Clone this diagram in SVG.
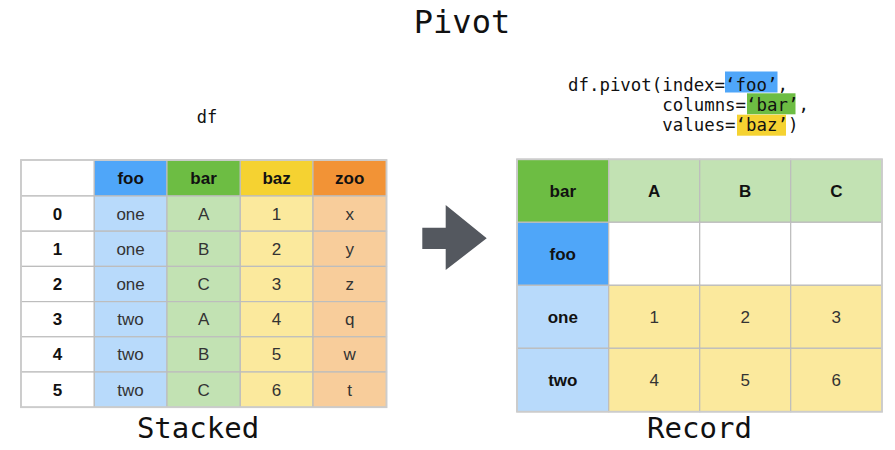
<svg xmlns="http://www.w3.org/2000/svg" width="895" height="450" viewBox="0 0 895 450">
<style>
.mono{font-family:"DejaVu Sans Mono","Liberation Mono",monospace;fill:#111}
.cell{stroke:#bdbdbd;stroke-width:1.2}
.h{font-family:"Liberation Sans",Arial,sans-serif;font-weight:bold;font-size:17px;fill:#111;text-anchor:middle}
.d{font-family:"Liberation Sans",Arial,sans-serif;font-size:17px;fill:#333;text-anchor:middle}
.w{fill:#ffffff}
.fooH{fill:#4fa6f9}.fooL{fill:#b8dafb}
.barH{fill:#6dbd43}.barL{fill:#c2e2b3}
.bazH{fill:#f5d231}.bazL{fill:#fbe99d}
.zooH{fill:#f29336}.zooL{fill:#f8cd9b}
</style>
<rect width="895" height="450" fill="#ffffff"/>
<g id="title"><text class="mono" x="462" y="33" font-size="32" text-anchor="middle">Pivot</text></g>
<g id="df-label"><text class="mono" x="207" y="123" font-size="17" text-anchor="middle">df</text></g>
<g id="code">
<rect x="725" y="71.5" width="52.5" height="21" fill="#4fa6f9"/>
<rect x="747" y="93.3" width="48.5" height="21" fill="#6dbd43"/>
<rect x="737" y="114.7" width="49" height="21" fill="#f5d231"/>
<text class="mono" font-size="17.4" x="568" y="90.5">df.pivot(index=‘foo’,</text>
<text class="mono" font-size="17.4" x="662.3" y="110.7">columns=‘bar’,</text>
<text class="mono" font-size="17.4" x="662.3" y="131">values=‘baz’)</text>
</g>
<g id="stacked-table">
<rect class="cell w" x="21" y="160" width="73.3" height="36"/>
<rect class="cell fooH" x="94.3" y="160" width="72.7" height="36"/>
<rect class="cell barH" x="167" y="160" width="73.3" height="36"/>
<rect class="cell bazH" x="240.3" y="160" width="72.7" height="36"/>
<rect class="cell zooH" x="313" y="160" width="73.5" height="36"/>
<text class="h" x="130.6" y="184">foo</text>
<text class="h" x="203.6" y="184">bar</text>
<text class="h" x="276.6" y="184">baz</text>
<text class="h" x="349.7" y="184">zoo</text>
<g id="rows">
<rect class="cell w" x="21" y="196" width="73.3" height="35.2"/><rect class="cell fooL" x="94.3" y="196" width="72.7" height="35.2"/><rect class="cell barL" x="167" y="196" width="73.3" height="35.2"/><rect class="cell bazL" x="240.3" y="196" width="72.7" height="35.2"/><rect class="cell zooL" x="313" y="196" width="73.5" height="35.2"/>
<rect class="cell w" x="21" y="231.2" width="73.3" height="35.2"/><rect class="cell fooL" x="94.3" y="231.2" width="72.7" height="35.2"/><rect class="cell barL" x="167" y="231.2" width="73.3" height="35.2"/><rect class="cell bazL" x="240.3" y="231.2" width="72.7" height="35.2"/><rect class="cell zooL" x="313" y="231.2" width="73.5" height="35.2"/>
<rect class="cell w" x="21" y="266.4" width="73.3" height="35.2"/><rect class="cell fooL" x="94.3" y="266.4" width="72.7" height="35.2"/><rect class="cell barL" x="167" y="266.4" width="73.3" height="35.2"/><rect class="cell bazL" x="240.3" y="266.4" width="72.7" height="35.2"/><rect class="cell zooL" x="313" y="266.4" width="73.5" height="35.2"/>
<rect class="cell w" x="21" y="301.6" width="73.3" height="35.2"/><rect class="cell fooL" x="94.3" y="301.6" width="72.7" height="35.2"/><rect class="cell barL" x="167" y="301.6" width="73.3" height="35.2"/><rect class="cell bazL" x="240.3" y="301.6" width="72.7" height="35.2"/><rect class="cell zooL" x="313" y="301.6" width="73.5" height="35.2"/>
<rect class="cell w" x="21" y="336.8" width="73.3" height="35.2"/><rect class="cell fooL" x="94.3" y="336.8" width="72.7" height="35.2"/><rect class="cell barL" x="167" y="336.8" width="73.3" height="35.2"/><rect class="cell bazL" x="240.3" y="336.8" width="72.7" height="35.2"/><rect class="cell zooL" x="313" y="336.8" width="73.5" height="35.2"/>
<rect class="cell w" x="21" y="372" width="73.3" height="35.2"/><rect class="cell fooL" x="94.3" y="372" width="72.7" height="35.2"/><rect class="cell barL" x="167" y="372" width="73.3" height="35.2"/><rect class="cell bazL" x="240.3" y="372" width="72.7" height="35.2"/><rect class="cell zooL" x="313" y="372" width="73.5" height="35.2"/>
</g>
<rect x="21" y="160" width="365.5" height="247.2" fill="none" stroke="#cccccc" stroke-width="1.8"/>
<text class="h" x="57.6" y="219.6">0</text><text class="d" x="130.6" y="219.6">one</text><text class="d" x="203.6" y="219.6">A</text><text class="d" x="276.6" y="219.6">1</text><text class="d" x="349.7" y="219.6">x</text>
<text class="h" x="57.6" y="254.8">1</text><text class="d" x="130.6" y="254.8">one</text><text class="d" x="203.6" y="254.8">B</text><text class="d" x="276.6" y="254.8">2</text><text class="d" x="349.7" y="254.8">y</text>
<text class="h" x="57.6" y="290">2</text><text class="d" x="130.6" y="290">one</text><text class="d" x="203.6" y="290">C</text><text class="d" x="276.6" y="290">3</text><text class="d" x="349.7" y="290">z</text>
<text class="h" x="57.6" y="325.2">3</text><text class="d" x="130.6" y="325.2">two</text><text class="d" x="203.6" y="325.2">A</text><text class="d" x="276.6" y="325.2">4</text><text class="d" x="349.7" y="325.2">q</text>
<text class="h" x="57.6" y="360.4">4</text><text class="d" x="130.6" y="360.4">two</text><text class="d" x="203.6" y="360.4">B</text><text class="d" x="276.6" y="360.4">5</text><text class="d" x="349.7" y="360.4">w</text>
<text class="h" x="57.6" y="395.6">5</text><text class="d" x="130.6" y="395.6">two</text><text class="d" x="203.6" y="395.6">C</text><text class="d" x="276.6" y="395.6">6</text><text class="d" x="349.7" y="395.6">t</text>
</g>
<g id="stacked-label"><text class="mono" x="198" y="438" font-size="29" text-anchor="middle">Stacked</text></g>
<g id="connectors">
<path d="M422.3,227.7 H445.7 V205 L486.7,238.3 L445.7,270 V249 H422.3 Z" fill="#54585f"/>
</g>
<g id="record-table">
<rect class="cell barH" x="517" y="159.3" width="91.7" height="63"/>
<rect class="cell barL" x="608.7" y="159.3" width="91" height="63"/>
<rect class="cell barL" x="699.7" y="159.3" width="91" height="63"/>
<rect class="cell barL" x="790.7" y="159.3" width="91.3" height="63"/>
<rect class="cell fooH" x="517" y="222.3" width="91.7" height="63"/>
<rect class="cell w" x="608.7" y="222.3" width="91" height="63"/>
<rect class="cell w" x="699.7" y="222.3" width="91" height="63"/>
<rect class="cell w" x="790.7" y="222.3" width="91.3" height="63"/>
<rect class="cell fooL" x="517" y="285.3" width="91.7" height="63"/>
<rect class="cell bazL" x="608.7" y="285.3" width="91" height="63"/>
<rect class="cell bazL" x="699.7" y="285.3" width="91" height="63"/>
<rect class="cell bazL" x="790.7" y="285.3" width="91.3" height="63"/>
<rect class="cell fooL" x="517" y="348.3" width="91.7" height="63.4"/>
<rect class="cell bazL" x="608.7" y="348.3" width="91" height="63.4"/>
<rect class="cell bazL" x="699.7" y="348.3" width="91" height="63.4"/>
<rect class="cell bazL" x="790.7" y="348.3" width="91.3" height="63.4"/>
<rect x="517" y="159.3" width="365" height="252.4" fill="none" stroke="#cccccc" stroke-width="1.8"/>
<text class="h" x="562.8" y="197">bar</text><text class="h" x="654.2" y="197">A</text><text class="h" x="745.2" y="197">B</text><text class="h" x="836.3" y="197">C</text>
<text class="h" x="562.8" y="260">foo</text>
<text class="h" x="562.8" y="323">one</text><text class="d" x="654.2" y="323">1</text><text class="d" x="745.2" y="323">2</text><text class="d" x="836.3" y="323">3</text>
<text class="h" x="562.8" y="386.2">two</text><text class="d" x="654.2" y="386.2">4</text><text class="d" x="745.2" y="386.2">5</text><text class="d" x="836.3" y="386.2">6</text>
</g>
<g id="record-label"><text class="mono" x="699.5" y="437.5" font-size="29" text-anchor="middle">Record</text></g>
</svg>
